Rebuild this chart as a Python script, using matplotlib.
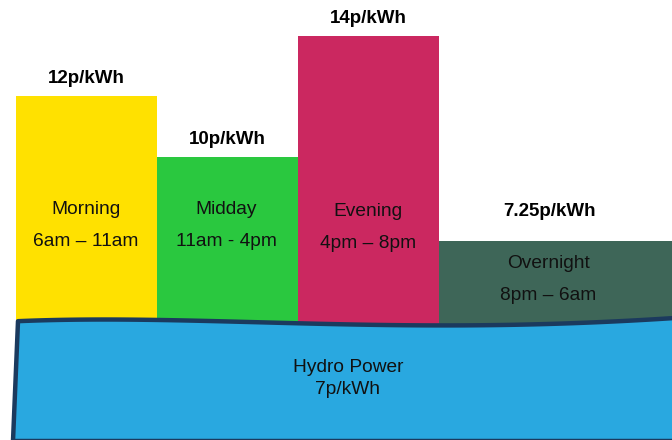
import numpy as np
import matplotlib
matplotlib.use("Agg")
import matplotlib.pyplot as plt

# ---- data ----
periods = ["Morning", "Midday", "Evening", "Overnight"]
times = ["6am \u2013 11am", "11am - 4pm", "4pm \u2013 8pm", "8pm \u2013 6am"]
prices = [12, 10, 14, 7.25]
price_labels = ["12p/kWh", "10p/kWh", "14p/kWh", "7.25p/kWh"]
hydro_name = "Hydro Power"
hydro_price_label = "7p/kWh"

colors = ["#ffe100", "#2ac83f", "#cb2860", "#3e6658"]

plt.rcParams['font.family'] = ['Liberation Sans', 'DejaVu Sans']

fig = plt.figure(figsize=(6.72, 4.40), dpi=100)
ax = fig.add_axes([0, 0, 1, 1])
ax.set_xlim(0, 672)
# pixel y = 461 - 30.39 * price
ax.set_ylim((461 - 440) / 30.39, 461 / 30.39)
ax.axis("off")

lefts = [16, 157, 298, 439]
widths = [141, 141, 141, 260]
ax.bar(lefts, prices, width=widths, align="edge", color=colors, linewidth=0)

label_offsets = [12.5, 12.5, 12, 21]
for l, w, p, lab, off in zip(lefts, widths, prices, price_labels, label_offsets):
    cx = l + w / 2 if l < 400 else 549
    ax.annotate(lab, (cx, p), xytext=(0, off), textcoords="offset points",
                ha="center", va="center", fontsize=13.5, fontweight="bold", color="#000000")

# overlay in pixel coordinates
ax2 = fig.add_axes([0, 0, 1, 1])
ax2.set_xlim(0, 672)
ax2.set_ylim(440, 0)
ax2.axis("off")
ax2.patch.set_alpha(0)

inner_pos = [(86, 210), (226, 210), (368, 212), (548, 264)]
for (x, y), name, t in zip(inner_pos, periods, times):
    ax2.text(x, y, name, ha="center", va="center", fontsize=13.8, color="#111111")
    ax2.text(x, y + 31, t, ha="center", va="center", fontsize=13.8, color="#111111")

# hydro box with wavy top
cx_pts = [18, 100, 200, 300, 400, 480, 560, 620, 672, 700]
cy_pts = [321, 320, 320.5, 323, 325.5, 325.5, 323.5, 321, 318, 316.5]
coef = np.polyfit(cx_pts, cy_pts, 4)
xs = np.linspace(18, 700, 120)
ys = np.polyval(coef, xs)
px = np.concatenate([xs, [700, 13]])
py = np.concatenate([ys, [441, 441]])
ax2.fill(px, py, facecolor="#29a8e0", edgecolor="#1b3a5e", linewidth=3.2,
         joinstyle="round", zorder=5)

ax2.text(348, 367, hydro_name, ha="center", va="center", fontsize=13.8, color="#111111", zorder=6)
ax2.text(348, 389, hydro_price_label, ha="center", va="center", fontsize=13.8, color="#111111", zorder=6)

fig.savefig("out.png", dpi=100)
